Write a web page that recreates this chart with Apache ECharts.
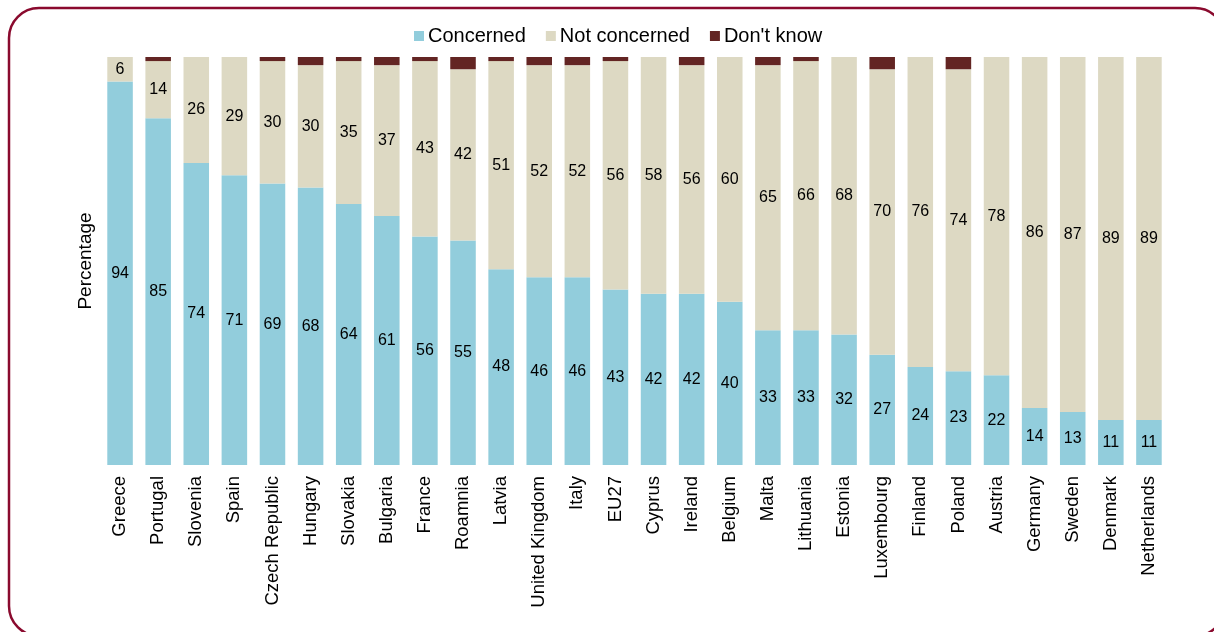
<!DOCTYPE html>
<html>
<head>
<meta charset="utf-8">
<script src="https://cdn.jsdelivr.net/npm/echarts@6/dist/echarts.min.js"></script>
<style>
html,body{margin:0;padding:0;background:#fff;}
#c{width:1214px;height:632px;}
</style>
</head>
<body>
<div id="c"></div>
<script>
var categories = ["Greece","Portugal","Slovenia","Spain","Czech Republic","Hungary","Slovakia","Bulgaria","France","Roamnia","Latvia","United Kingdom","Italy","EU27","Cyprus","Ireland","Belgium","Malta","Lithuania","Estonia","Luxembourg","Finland","Poland","Austria","Germany","Sweden","Denmark","Netherlands"];
var concerned = [94,85,74,71,69,68,64,61,56,55,48,46,46,43,42,42,40,33,33,32,27,24,23,22,14,13,11,11];
var notConcerned = [6,14,26,29,30,30,35,37,43,42,51,52,52,56,58,56,60,65,66,68,70,76,74,78,86,87,89,89];
var dontKnow = [0,1,0,0,1,2,1,2,1,3,1,2,2,1,0,2,0,2,1,0,3,0,3,0,0,0,0,0];

var chart = echarts.init(document.getElementById('c'));
var font = 'Liberation Sans, Arial, sans-serif';
var lbl = {show:true, position:'inside', color:'#000', fontSize:16, fontFamily:font};
chart.setOption({
  animation:false,
  textStyle:{fontFamily:font},
  graphic:[{type:'rect', shape:{x:9,y:8,width:1216,height:628,r:30}, style:{fill:'none', stroke:'#8a0a2e', lineWidth:2.5}, z:-1}],
  legend:{top:21, left:409, itemWidth:10, itemHeight:10, itemGap:20, icon:'rect',
    textStyle:{fontSize:20, color:'#000', fontFamily:font, padding:[0,0,0,-1]},
    data:['Concerned','Not concerned',"Don't know"]},
  grid:{left:101, right:46, top:57, bottom:167, containLabel:false},
  xAxis:{type:'category', data:categories, axisLine:{show:false}, axisTick:{show:false},
    axisLabel:{rotate:90, fontSize:18.5, color:'#000', margin:11, interval:0, fontFamily:font}},
  yAxis:{type:'value', min:0, max:100, name:'Percentage', nameLocation:'middle', nameGap:6,
    nameTextStyle:{fontSize:19, color:'#000', fontFamily:font},
    axisLabel:{show:false}, axisLine:{show:false}, axisTick:{show:false}, splitLine:{show:false}},
  series:[
    {name:'Concerned', type:'bar', stack:'a', data:concerned, barCategoryGap:'33%', itemStyle:{color:'#92cddc'}, label:lbl},
    {name:'Not concerned', type:'bar', stack:'a', data:notConcerned, itemStyle:{color:'#ddd9c3'}, label:lbl},
    {name:"Don't know", type:'bar', stack:'a', data:dontKnow, itemStyle:{color:'#632523'}, label:{show:false}}
  ]
});
</script>
</body>
</html>
